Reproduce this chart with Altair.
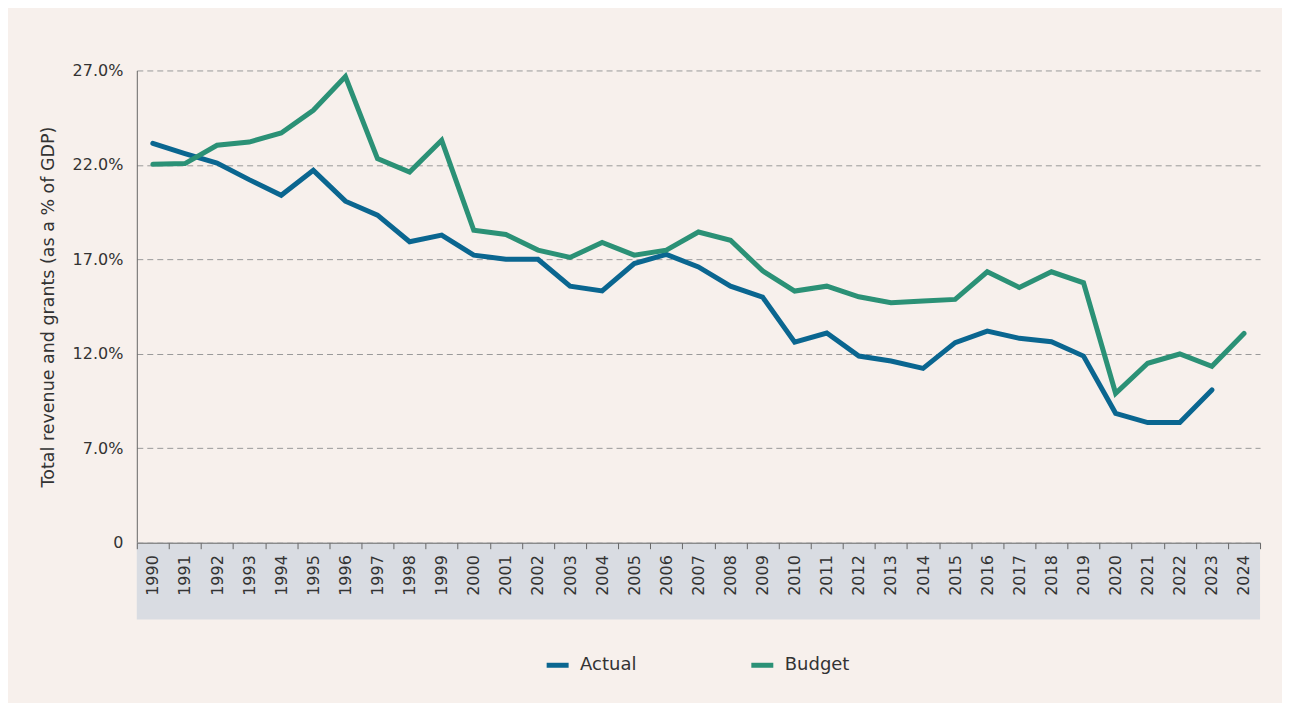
import altair as alt
import pandas as pd

years = [str(y) for y in range(1990, 2025)]
actual = [23.14, 22.6, 22.1, 21.22, 20.39, 21.71, 20.08, 19.34, 17.93, 18.28,
          17.22, 17.01, 17.0, 15.58, 15.33, 16.78, 17.26, 16.6, 15.58, 15.0,
          12.62, 13.1, 11.88, 11.62, 11.23, 12.59, 13.2, 12.82, 12.64, 11.88,
          8.85, 8.36, 8.36, 10.09, None]
budget = [22.03, 22.07, 23.04, 23.21, 23.69, 24.89, 26.68, 22.33, 21.62, 23.3,
          18.54, 18.32, 17.49, 17.1, 17.89, 17.22, 17.49, 18.45, 18.01, 16.39,
          15.32, 15.58, 15.02, 14.7, 14.79, 14.88, 16.34, 15.51, 16.34, 15.76,
          9.91, 11.5, 11.99, 11.34, 13.08]
series_names = ["Actual", "Budget"]
series_colors = ["#0a6690", "#2b9176"]
y_ticks = [2, 7, 12, 17, 22, 27]

rows = []
for i, yr in enumerate(years):
    if actual[i] is not None:
        rows.append({"year": yr, "series": "Actual", "value": actual[i]})
    rows.append({"year": yr, "series": "Budget", "value": budget[i]})
df = pd.DataFrame(rows)

W, H = 1125, 473
FONT = "DejaVu Sans"
TXT = "#333333"

band = alt.Chart(pd.DataFrame({"a": [0]})).mark_rect(color="#d9dce2").encode(
    x=alt.value(0), x2=alt.value(W), y=alt.value(H), y2=alt.value(H + 77)
)

lines = alt.Chart(df).mark_line(strokeWidth=5, strokeCap="round").encode(
    x=alt.X("year:O", sort=years,
            scale=alt.Scale(type="band", paddingInner=0, paddingOuter=0),
            axis=alt.Axis(title=None, labelAngle=-90, labelAlign="right",
                          labelBaseline="middle", labelFontSize=16,
                          labelColor=TXT, labelFont=FONT, labelPadding=6,
                          tickBand="extent", tickSize=6, tickColor="#666666",
                          domainColor="#666666", grid=False, zindex=1)),
    y=alt.Y("value:Q", scale=alt.Scale(domain=[2, 27], nice=False, zero=False),
            axis=alt.Axis(title="Total revenue and grants (as a % of GDP)",
                          values=y_ticks,
                          labelExpr="datum.value == 2 ? '0' : format(datum.value, '.1f') + '%'",
                          labelFontSize=16, labelColor=TXT, labelFont=FONT,
                          labelPadding=14, ticks=False,
                          titleFontSize=17.5, titleFont=FONT, titleColor=TXT,
                          titleFontWeight="normal", titlePadding=15,
                          domainColor="#666666", grid=True,
                          gridColor="#9a9a9a", gridDash=[6, 4], gridWidth=1)),
    color=alt.Color("series:N",
                    scale=alt.Scale(domain=series_names, range=series_colors),
                    legend=alt.Legend(title=None, orient="none", direction="horizontal",
                                      legendX=408, legendY=582, padding=0,
                                      symbolType="stroke", symbolSize=484,
                                      symbolStrokeWidth=5, labelFontSize=18,
                                      labelFont=FONT, labelColor=TXT,
                                      labelOffset=9, columnPadding=104)),
)

chart = alt.layer(band, lines).properties(
    width=W, height=H,
    background="#f7f0ec",
    padding={"left": 129, "top": 62, "right": 22, "bottom": 160},
    autosize=alt.AutoSizeParams(type="none"),
).configure_view(stroke=None)

chart.save("out.html", embed_options={"renderer": "svg", "actions": False})
